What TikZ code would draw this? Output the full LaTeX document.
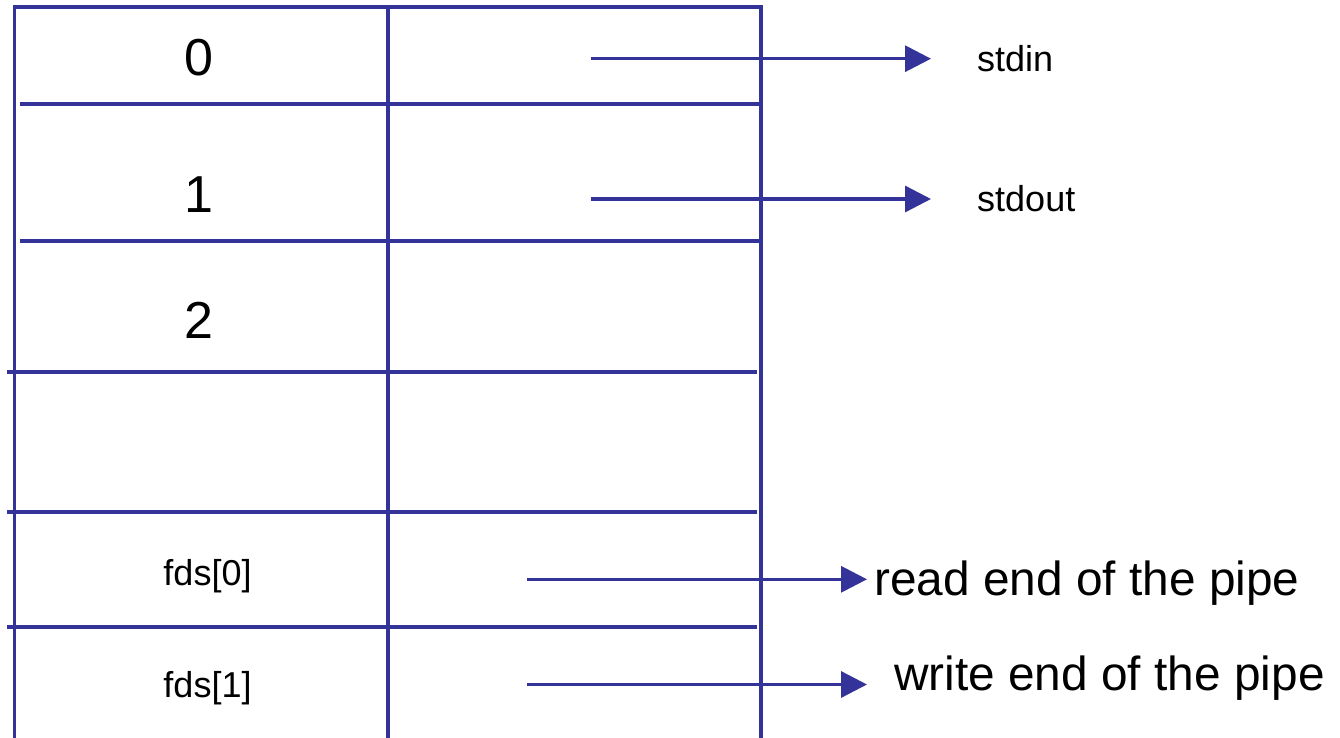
\documentclass[tikz,border=0pt]{standalone}
\usepackage{fontspec}
\setmainfont{Liberation Sans}
\usetikzlibrary{arrows.meta}
\definecolor{tblue}{RGB}{51,51,153}
\begin{document}
\begin{tikzpicture}[x=1pt,y=-1pt,
  grid/.style={draw=tblue,line width=3.3pt},
  conn/.style={draw=tblue,line width=3.3pt,-{Triangle[length=26pt,width=26pt]}},
  bignum/.style={inner sep=0pt,anchor=base,font=\fontsize{52}{60}\selectfont},
  small/.style={inner sep=0pt,font=\fontsize{36}{42}\selectfont},
  pipe/.style={inner sep=0pt,anchor=base west,font=\fontsize{47.8}{56}\selectfont}]
\useasboundingbox (0,0) rectangle (1340,738);
% table outline
\draw[grid,line join=miter] (14.5,738) -- (14.5,7) -- (761,7) -- (761,738);
\draw[grid] (388,7) -- (388,738);
\draw[grid] (20,104) -- (759,104);
\draw[grid] (20,241) -- (759,241);
\draw[grid] (7,372) -- (757,372);
\draw[grid] (7,512) -- (757,512);
\draw[grid] (7,627) -- (757,627);
% cell labels
\node[bignum] (n0) at (199,76) {0};
\node[bignum] (n1) at (199,212) {1};
\node[bignum] (n2) at (199,338) {2};
\node[small,anchor=base] (f0) at (207.5,585) {fds[0]};
\node[small,anchor=base] (f1) at (207.5,697) {fds[1]};
% targets
\node[small,anchor=base west] (stdin) at (977,72) {stdin};
\node[small,anchor=base west] (stdout) at (977,211.5) {stdout};
\node[pipe] (rd) at (874,595.5) {read end of the pipe};
\node[pipe] (wr) at (894,690) {write end of the pipe};
% connectors
\coordinate (c0) at (591,58.7);
\coordinate (c1) at (591,199);
\coordinate (c3) at (527,579.3);
\coordinate (c4) at (527,684.5);
\draw[conn,shorten >=46pt] (c0) -- (c0 -| stdin.west);
\draw[conn,shorten >=46pt] (c1) -- (c1 -| stdout.west);
\draw[conn,shorten >=7pt] (c3) -- (c3 -| rd.west);
\draw[conn,shorten >=27pt] (c4) -- (c4 -| wr.west);
\end{tikzpicture}
\end{document}
